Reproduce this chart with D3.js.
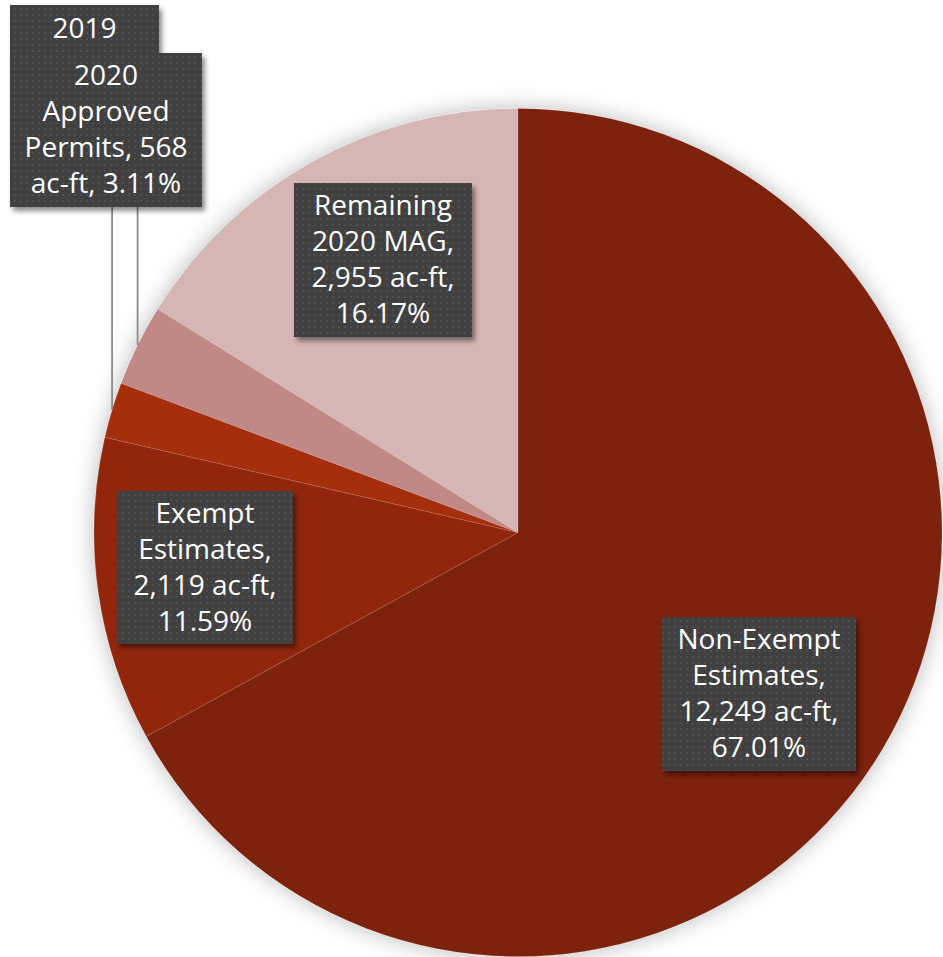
<!DOCTYPE html>
<html>
<head>
<meta charset="utf-8">
<script src="https://cdn.jsdelivr.net/npm/d3@7"></script>
<style>
  html, body { margin: 0; padding: 0; background: #ffffff; }
  svg { display: block; }
</style>
</head>
<body>
<svg id="chart" width="943" height="957"></svg>
<script>
// Water use against the 2020 MAG, in acre-feet
const categories = [
  "Non-Exempt Estimates",
  "Exempt Estimates",
  "2019 Approved Permits",
  "2020 Approved Permits",
  "Remaining 2020 MAG"
];
const acreFeet = [12249, 2119, 388, 568, 2955];
const sliceColors = ["#7b2109", "#91280f", "#a52f0e", "#c08985", "#d6b6b4"];

const num = d3.format(",");
const pct = d3.format(".2%");
const total = d3.sum(acreFeet);

// Line breaks used in each data label
const labelText = [
  v => ["Non-Exempt", "Estimates,", `${num(v)} ac-ft,`, pct(v / total)],
  v => ["Exempt", "Estimates,", `${num(v)} ac-ft,`, pct(v / total)],
  v => ["2019"],
  v => ["2020", "Approved", `Permits, ${num(v)}`, `ac-ft, ${pct(v / total)}`],
  v => ["Remaining", "2020 MAG,", `${num(v)} ac-ft,`, pct(v / total)]
];

// Label box placement (x, y = top-left corner; w, h = size)
const labelBoxes = [
  { x: 662, y: 617, w: 194, h: 154, leader: false },
  { x: 117, y: 491, w: 176, h: 153, leader: false },
  { x: 10,  y: 5,   w: 149, h: 150, leader: true  },
  { x: 10,  y: 53,  w: 192, h: 154, leader: true  },
  { x: 294, y: 183, w: 178, h: 154, leader: false }
];

const cx = 518, cy = 532.5, radius = 424;
const lineGap = 36, fontSize = 28;

const svg = d3.select("#chart");
const defs = svg.append("defs");

// soft glow around the pie
const pieShadow = defs.append("filter").attr("id", "pieShadow")
  .attr("x", "-10%").attr("y", "-10%").attr("width", "120%").attr("height", "120%");
pieShadow.append("feDropShadow")
  .attr("dx", 0).attr("dy", 0).attr("stdDeviation", 11)
  .attr("flood-color", "#000").attr("flood-opacity", 0.28);

// shadow under label boxes
const boxShadow = defs.append("filter").attr("id", "boxShadow")
  .attr("x", "-10%").attr("y", "-10%").attr("width", "130%").attr("height", "130%");
boxShadow.append("feDropShadow")
  .attr("dx", 3).attr("dy", 4).attr("stdDeviation", 2.5)
  .attr("flood-color", "#000").attr("flood-opacity", 0.45);

// dotted texture for the label boxes
const dots = defs.append("pattern").attr("id", "dots")
  .attr("patternUnits", "userSpaceOnUse").attr("width", 6).attr("height", 6);
dots.append("rect").attr("width", 6).attr("height", 6).attr("fill", "#3f3f3f");
dots.append("rect").attr("x", 2).attr("y", 2).attr("width", 2).attr("height", 2).attr("fill", "#505050");

const pie = d3.pie().sort(null).value(d => d)(acreFeet);
const arc = d3.arc().innerRadius(0).outerRadius(radius);

const pieG = svg.append("g")
  .attr("transform", `translate(${cx},${cy})`)
  .attr("filter", "url(#pieShadow)");

pieG.selectAll("path.slice")
  .data(pie)
  .join("path")
  .attr("class", "slice")
  .attr("d", arc)
  .attr("fill", (d, i) => sliceColors[i])
  .attr("stroke", "rgba(255,255,255,0.18)")
  .attr("stroke-width", 0.6);

// leader lines from the narrow slices up to their labels
const leaders = svg.append("g");
pie.forEach((d, i) => {
  const b = labelBoxes[i];
  if (!b.leader) return;
  const a = (d.startAngle + d.endAngle) / 2;
  const px = cx + radius * Math.sin(a);
  const py = cy - radius * Math.cos(a);
  leaders.append("line")
    .attr("x1", px).attr("y1", py)
    .attr("x2", px).attr("y2", labelBoxes[3].y + labelBoxes[3].h)
    .attr("stroke", "#8c8c8c").attr("stroke-width", 1.8);
});

// data labels (2019 first so the 2020 box sits over it)
const labelG = svg.append("g");
[0, 1, 4, 2, 3].forEach(i => {
  const b = labelBoxes[i];
  const lines = labelText[i](acreFeet[i]);
  const g = labelG.append("g").attr("class", "label");
  g.append("rect")
    .attr("x", b.x).attr("y", b.y).attr("width", b.w).attr("height", b.h)
    .attr("fill", "url(#dots)")
    .attr("filter", "url(#boxShadow)");
  const midX = b.x + b.w / 2;
  // single-line label keeps its text at the top of its box
  const firstCenter = lines.length === 1
    ? b.y + 23
    : b.y + b.h / 2 - (lines.length - 1) * lineGap / 2 - 1;
  g.selectAll("text")
    .data(lines)
    .join("text")
    .attr("x", midX)
    .attr("y", (t, k) => firstCenter + k * lineGap + 10)
    .attr("text-anchor", "middle")
    .attr("fill", "#ffffff")
    .attr("font-family", "'Open Sans', Roboto, sans-serif")
    .attr("font-size", fontSize)
    .text(t => t);
});
</script>
</body>
</html>
